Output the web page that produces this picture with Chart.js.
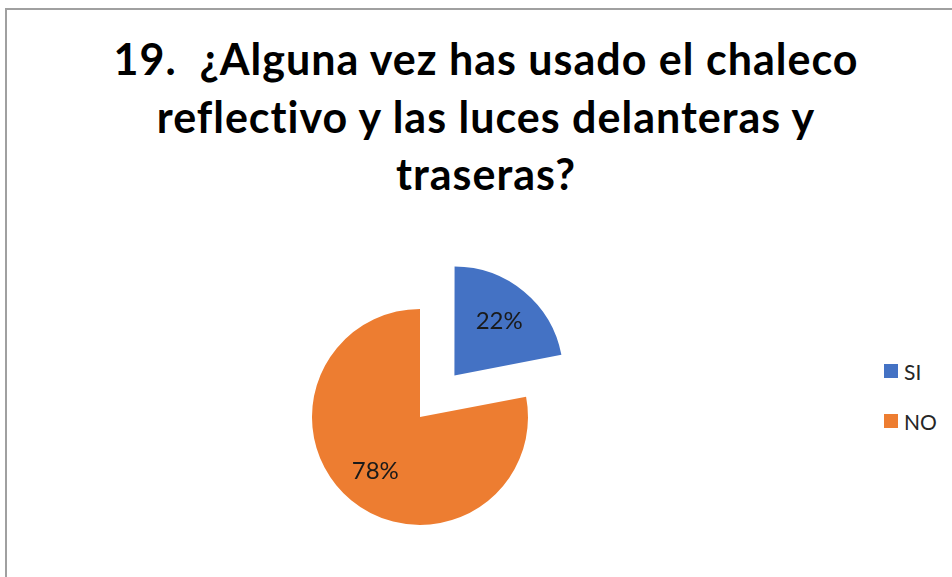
<!DOCTYPE html>
<html>
<head>
<meta charset="utf-8">
<script src="https://cdn.jsdelivr.net/npm/chart.js@4"></script>
<style>
  html, body {
    margin: 0;
    padding: 0;
    width: 952px;
    height: 577px;
    overflow: hidden;
    background: #ffffff;
  }
  .frame {
    position: absolute;
    left: 5px;
    top: 8px;
    width: 960px;
    height: 590px;
    border: 2px solid #a0a0a0;
    box-sizing: border-box;
  }
  .chart-title {
    position: absolute;
    left: 0;
    top: 30px;
    width: 972px;
    text-align: center;
    font-family: Lato, sans-serif;
    font-weight: 700;
    font-size: 43px;
    letter-spacing: 1px;
    line-height: 57.5px;
    color: #000000;
    white-space: pre;
  }
  .pie-box {
    position: absolute;
    left: 250px;
    top: 257px;
    width: 340px;
    height: 320px;
  }
  .legend {
    position: absolute;
    left: 884px;
    top: 360px;
    font-family: Lato, sans-serif;
    font-size: 21px;
    color: #262626;
  }
  .legend-item {
    display: flex;
    align-items: center;
    height: 22px;
    margin-bottom: 28px;
  }
  .legend-dot {
    display: inline-block;
    width: 14px;
    height: 14px;
    margin-right: 6px;
  }
</style>
</head>
<body>
<div class="frame"></div>
<div class="chart-title" id="chartTitle"></div>
<div class="pie-box"><canvas id="chartUsoChaleco"></canvas></div>
<div class="legend" id="usoLegend"></div>

<script>
const titleLines = [
  '19.  ¿Alguna vez has usado el chaleco',
  'reflectivo y las luces delanteras y',
  'traseras?'
];
const categorias = ['SI', 'NO'];
const porcentajes = [22, 78];
const cores = ['#4472C4', '#ED7D31'];

// ===== Titulo =====
document.getElementById('chartTitle').textContent = titleLines.join('\n');

// ===== Rotulos dentro das fatias =====
const sliceLabels = {
  id: 'sliceLabels',
  afterDatasetsDraw(chart) {
    const ctx = chart.ctx;
    const meta = chart.getDatasetMeta(0);
    ctx.save();
    ctx.font = '24px Lato, sans-serif';
    ctx.fillStyle = '#1a1a1a';
    ctx.textAlign = 'center';
    ctx.textBaseline = 'middle';
    meta.data.forEach((arc, i) => {
      const { x, y, startAngle, endAngle, outerRadius } =
        arc.getProps(['x', 'y', 'startAngle', 'endAngle', 'outerRadius'], true);
      const mid = (startAngle + endAngle) / 2;
      const shift = (arc.options.offset || 0) / 4;
      const d = shift + outerRadius * 0.65;
      ctx.fillText(`${porcentajes[i]}%`, x + Math.cos(mid) * d, y + Math.sin(mid) * d);
    });
    ctx.restore();
  }
};

new Chart(document.getElementById('chartUsoChaleco'), {
  type: 'pie',
  data: {
    labels: categorias,
    datasets: [{
      data: porcentajes,
      backgroundColor: cores,
      borderWidth: 0,
      hoverBorderWidth: 0,
      offset: [216, 0],
      hoverOffset: 0,
      radius: 108
    }]
  },
  options: {
    responsive: true,
    maintainAspectRatio: false,
    animation: false,
    layout: { padding: 0 },
    plugins: {
      legend: { display: false },
      tooltip: { enabled: false }
    }
  },
  plugins: [sliceLabels]
});

// ===== Legenda =====
const legend = document.getElementById('usoLegend');
categorias.forEach((label, i) => {
  const item = document.createElement('div');
  item.className = 'legend-item';
  const dot = document.createElement('span');
  dot.className = 'legend-dot';
  dot.style.background = cores[i];
  const text = document.createElement('span');
  text.textContent = label;
  item.appendChild(dot);
  item.appendChild(text);
  legend.appendChild(item);
});
</script>
</body>
</html>
